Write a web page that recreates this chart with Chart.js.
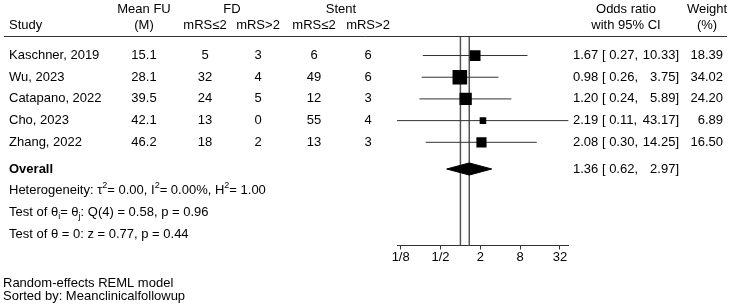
<!DOCTYPE html>
<html><head><meta charset="utf-8">
<script src="https://cdn.jsdelivr.net/npm/chart.js@4.4.1/dist/chart.umd.min.js"></script>
<style>html,body{margin:0;padding:0;background:#fff;}canvas{display:block}</style>
</head><body>
<canvas id="c" width="740" height="304"></canvas>
<script>
// ---- data ----
const studies = ["Kaschner, 2019", "Wu, 2023", "Catapano, 2022", "Cho, 2023", "Zhang, 2022"];
const meanFU = ["15.1", "28.1", "39.5", "42.1", "46.2"];
const fdGood = [5, 32, 24, 13, 18];
const fdPoor = [3, 4, 5, 0, 2];
const stentGood = [6, 49, 12, 55, 13];
const stentPoor = [6, 6, 3, 4, 3];
const oddsRatio = [1.67, 0.98, 1.20, 2.19, 2.08];
const ciLow = [0.27, 0.26, 0.24, 0.11, 0.30];
const ciHigh = [10.33, 3.75, 5.89, 43.17, 14.25];
const weights = [18.39, 34.02, 24.20, 6.89, 16.50];
const overallOR = 1.36, overallLow = 0.62, overallHigh = 2.97;
const tickValues = [0.125, 0.5, 2, 8, 32];
const tickLabels = ["1/8", "1/2", "2", "8", "32"];
const tau2Val = "0.00", i2Val = "0.00%", h2Val = "1.00";
const qStat = "0.58", qDf = 4, qP = "0.96";
const zStat = "0.77", zP = "0.44";
const footer = ["Random-effects REML model", "Sorted by: Meanclinicalfollowup"];

// ---- layout / style ----
const FAM = '"Liberation Sans", Arial, Helvetica, sans-serif';
const FS = 13;
const Y_MIN = -0.9, Y_MAX = 8.756;
const ROW_OVERALL = 5.23;
const STAT_ROWS = [6.24, 7.24, 8.23];
const DIAMOND_H = 0.28;
const COLX = {fu: 144, fd1: 205, fd2: 258, st1: 314, st2: 368, fd: 232, st: 341};

const ciSets = studies.map((s, i) => ({
  data: [{x: ciLow[i], y: i}, {x: ciHigh[i], y: i}],
  showLine: true, borderColor: '#333', borderWidth: 1, pointRadius: 0, order: 3
}));
const refLine = v => ({
  data: [{x: v, y: Y_MIN}, {x: v, y: Y_MAX}],
  showLine: true, borderColor: '#555', borderWidth: 1.5, pointRadius: 0, order: 4
});
const squareSet = {
  data: studies.map((s, i) => ({x: oddsRatio[i], y: i})),
  pointStyle: 'rect', pointRadius: weights.map(w => 1.77 * Math.sqrt(w)),
  backgroundColor: '#000', borderColor: '#000', borderWidth: 0, order: 1
};
const diamondSet = {
  data: [
    {x: overallLow, y: ROW_OVERALL}, {x: overallOR, y: ROW_OVERALL - DIAMOND_H},
    {x: overallHigh, y: ROW_OVERALL}, {x: overallOR, y: ROW_OVERALL + DIAMOND_H},
    {x: overallLow, y: ROW_OVERALL}
  ],
  showLine: true, fill: 'shape', backgroundColor: '#000', borderColor: '#000',
  borderWidth: 1, pointRadius: 0, order: 2
};

function rich(ctx, segs, x, y) {
  for (const s of segs) {
    if (s.sup || s.sub) {
      ctx.font = `9px ${FAM}`;
      ctx.fillText(s.t, x, y + (s.sup ? -5 : 4));
    } else {
      ctx.font = `${FS}px ${FAM}`;
      ctx.fillText(s.t, x, y);
    }
    x += ctx.measureText(s.t).width;
  }
}

const tablePlugin = {
  id: 'table',
  afterDraw(chart) {
    const ctx = chart.ctx, ys = chart.scales.y, area = chart.chartArea;
    ctx.save();
    ctx.fillStyle = '#000';
    ctx.textBaseline = 'middle';
    const txt = (t, x, y, align, font) => {
      ctx.font = font || `${FS}px ${FAM}`;
      ctx.textAlign = align; ctx.fillText(t, x, y);
    };
    // header
    const hy1 = 9, hy2 = 25;
    txt("Mean FU", COLX.fu, hy1, 'center'); txt("FD", COLX.fd, hy1, 'center'); txt("Stent", COLX.st, hy1, 'center');
    txt("Odds ratio", 626, hy1, 'center'); txt("Weight", 707, hy1, 'center');
    txt("Study", 9, hy2, 'left'); txt("(M)", COLX.fu, hy2, 'center');
    txt("mRS≤2", COLX.fd1, hy2, 'center'); txt("mRS>2", COLX.fd2, hy2, 'center');
    txt("mRS≤2", COLX.st1, hy2, 'center'); txt("mRS>2", COLX.st2, hy2, 'center');
    txt("with 95% CI", 626, hy2, 'center'); txt("(%)", 707, hy2, 'center');
    // header rule
    ctx.strokeStyle = '#333'; ctx.lineWidth = 1;
    ctx.beginPath(); ctx.moveTo(4, Math.round(area.top) + 0.5); ctx.lineTo(727, Math.round(area.top) + 0.5); ctx.stroke();
    // rows
    studies.forEach((s, i) => {
      const y = ys.getPixelForValue(i);
      txt(s, 9, y, 'left');
      txt(meanFU[i], COLX.fu, y, 'center');
      txt(String(fdGood[i]), COLX.fd1, y, 'center'); txt(String(fdPoor[i]), COLX.fd2, y, 'center');
      txt(String(stentGood[i]), COLX.st1, y, 'center'); txt(String(stentPoor[i]), COLX.st2, y, 'center');
      txt(`${oddsRatio[i].toFixed(2)} [ ${ciLow[i].toFixed(2)},`, 573, y, 'left');
      txt(`${ciHigh[i].toFixed(2)}]`, 679, y, 'right');
      txt(weights[i].toFixed(2), 723, y, 'right');
    });
    const yo = ys.getPixelForValue(ROW_OVERALL);
    txt("Overall", 9, yo, 'left', `bold ${FS}px ${FAM}`);
    txt(`${overallOR.toFixed(2)} [ ${overallLow.toFixed(2)},`, 573, yo, 'left');
    txt(`${overallHigh.toFixed(2)}]`, 679, yo, 'right');
    ctx.textAlign = 'left';
    rich(ctx, [{t: "Heterogeneity: τ"}, {t: "2", sup: 1}, {t: `= ${tau2Val}, I`}, {t: "2", sup: 1},
      {t: `= ${i2Val}, H`}, {t: "2", sup: 1}, {t: `= ${h2Val}`}], 9, ys.getPixelForValue(STAT_ROWS[0]));
    rich(ctx, [{t: "Test of θ"}, {t: "i", sub: 1}, {t: "= θ"}, {t: "j", sub: 1},
      {t: `: Q(${qDf}) = ${qStat}, p = ${qP}`}], 9, ys.getPixelForValue(STAT_ROWS[1]));
    rich(ctx, [{t: `Test of θ = 0: z = ${zStat}, p = ${zP}`}], 9, ys.getPixelForValue(STAT_ROWS[2]));
    // footer
    txt(footer[0], 3, 283, 'left', `${FS}px ${FAM}`);
    txt(footer[1], 3, 296, 'left', `${FS}px ${FAM}`);
    ctx.restore();
  }
};

new Chart(document.getElementById('c'), {
  type: 'scatter',
  data: {datasets: [...ciSets, refLine(1), refLine(overallOR), squareSet, diamondSet]},
  options: {
    responsive: false, animation: false, devicePixelRatio: 1,
    layout: {padding: {left: 397, right: 171.4, top: 36, bottom: 38.9}},
    plugins: {legend: {display: false}, tooltip: {enabled: false}},
    scales: {
      x: {
        type: 'logarithmic',
        min: Math.min(...ciLow), max: Math.max(...ciHigh),
        afterBuildTicks: s => { s.ticks = tickValues.map(v => ({value: v})); },
        ticks: {callback: (v, i) => tickLabels[i], color: '#000', padding: 0,
          autoSkip: false, maxRotation: 0, font: {family: FAM, size: FS}},
        grid: {drawOnChartArea: false, drawTicks: true, tickLength: 4, color: '#333'},
        border: {color: '#333', width: 1}
      },
      y: {type: 'linear', display: false, reverse: true, min: Y_MIN, max: Y_MAX}
    }
  },
  plugins: [tablePlugin]
});
</script>
</body></html>
